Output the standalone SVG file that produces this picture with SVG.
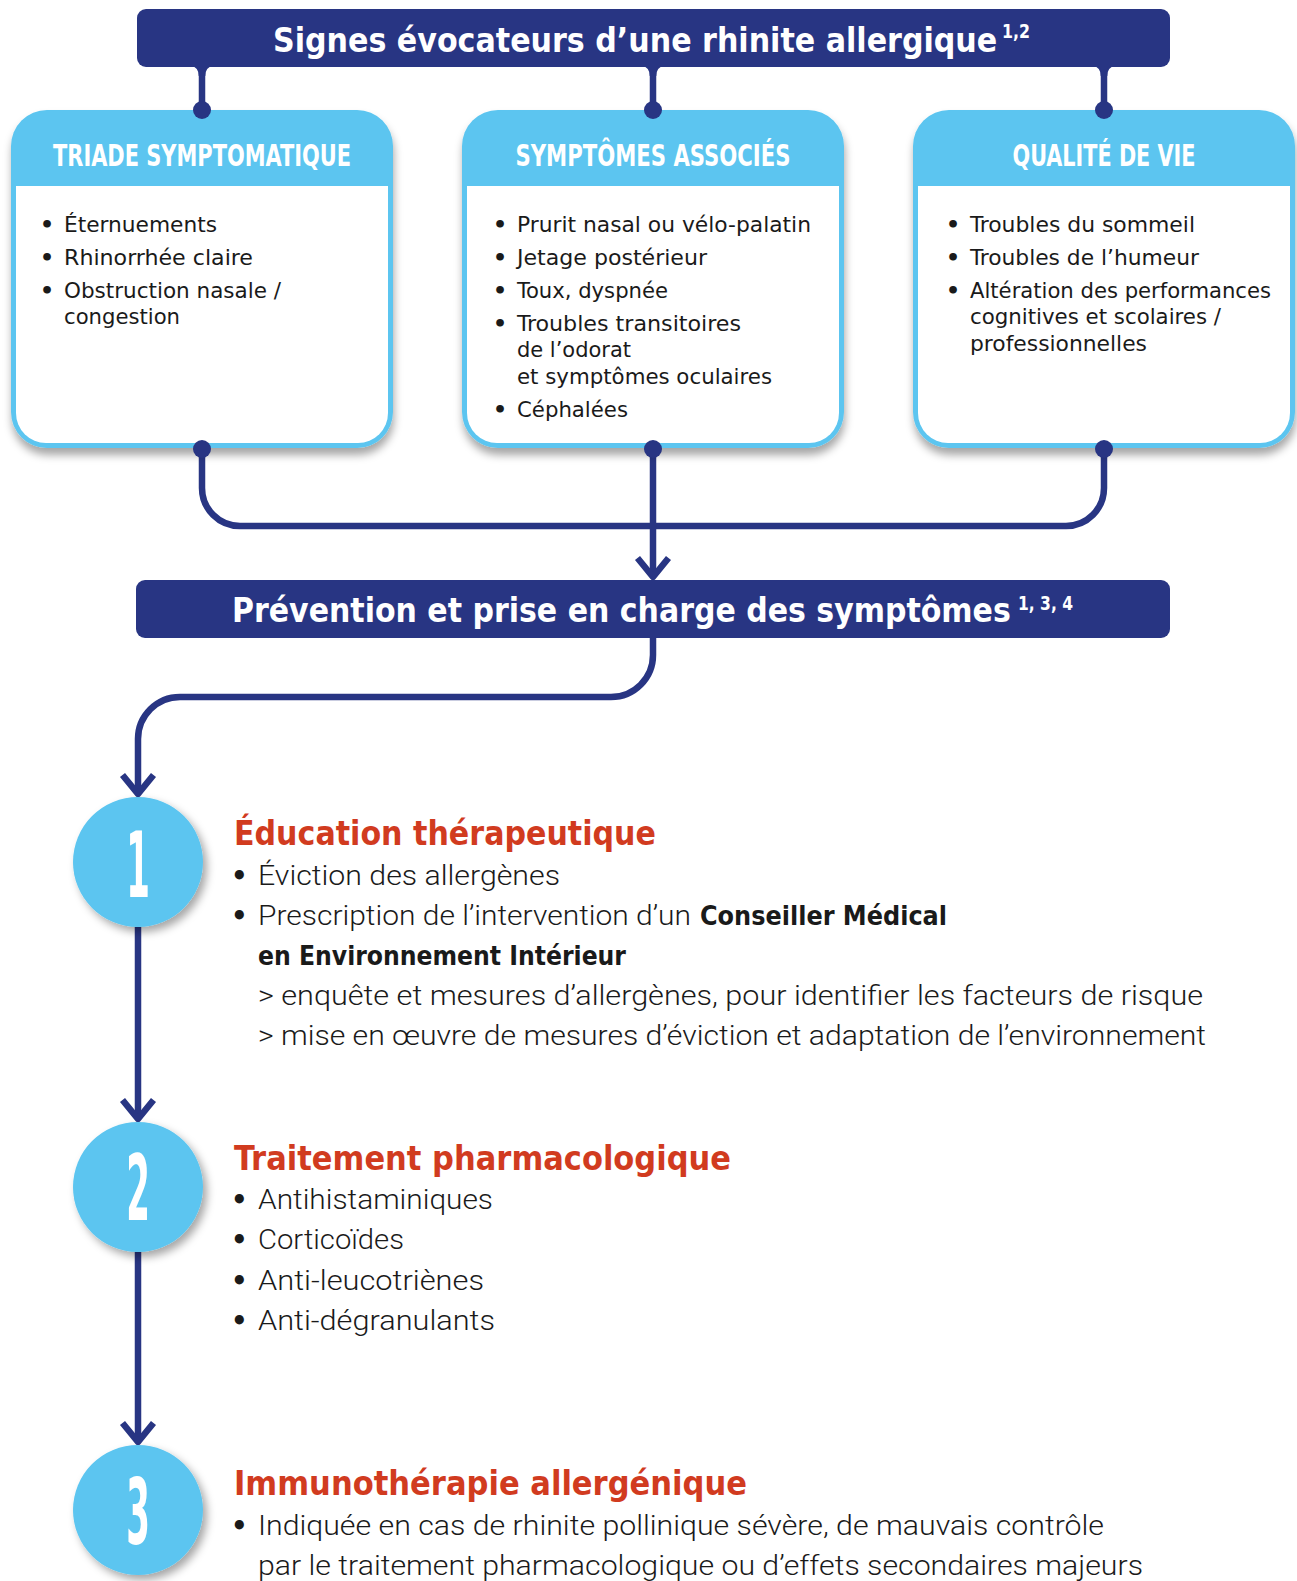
<svg xmlns="http://www.w3.org/2000/svg" width="1297" height="1581" viewBox="0 0 1297 1581">
<defs>
<style>
.navy{fill:#283583}
.lb{fill:#5bc5f0}
.wire{fill:none;stroke:#283583;stroke-width:6.5;stroke-linecap:butt;stroke-linejoin:round}
.ttl{font-family:"DejaVu Sans Condensed","Liberation Sans",sans-serif;font-weight:bold;fill:#fff;font-size:34px}
.sup{font-family:"DejaVu Sans Condensed","Liberation Sans",sans-serif;font-weight:bold;fill:#fff;font-size:19px}
.hd{font-family:"DejaVu Sans Condensed","Liberation Sans",sans-serif;font-weight:bold;fill:#fff;font-size:30px;text-anchor:middle}
.bd{font-family:"DejaVu Sans Condensed","Liberation Sans",sans-serif;fill:#1a1a1a;font-size:22px}
.bl{font-family:"DejaVu Sans","Liberation Sans",sans-serif;font-weight:bold;fill:#1a1a1a}
.sec{font-family:"DejaVu Sans Condensed","Liberation Sans",sans-serif;font-weight:bold;fill:#d13b1f;font-size:33px}
.tx{font-family:Roboto,"DejaVu Sans Condensed","Liberation Sans",sans-serif;font-weight:300;fill:#1a1a1a;font-size:27px}
.txb{font-family:"DejaVu Sans Condensed","Liberation Sans",sans-serif;font-weight:bold;fill:#1a1a1a;font-size:27px}
.num{font-family:"DejaVu Sans Condensed","Liberation Sans",sans-serif;font-weight:bold;fill:#fff;font-size:90px;text-anchor:middle}
</style>
<filter id="sh" x="-20%" y="-20%" width="140%" height="150%">
<feDropShadow dx="1" dy="7" stdDeviation="4.5" flood-color="#000" flood-opacity="0.35"/>
</filter>
<filter id="csh" x="-30%" y="-30%" width="160%" height="160%">
<feDropShadow dx="4" dy="5" stdDeviation="4" flood-color="#000" flood-opacity="0.35"/>
</filter>
</defs>
<rect width="1297" height="1581" fill="#fff"/>

<g id="connectors">
<path class="navy" d="M191,66 H213 Q205.3,67 205.3,76 H198.7 Q198.7,67 191,66 Z M642,66 H664 Q656.3,67 656.3,76 H649.7 Q649.7,67 642,66 Z M1093,66 H1115 Q1107.3,67 1107.3,76 H1100.7 Q1100.7,67 1093,66 Z"/>
<path class="wire" d="M202,66 V110 M653,66 V110 M1104,66 V110"/>
<path class="wire" d="M202,449 V488 A38,38 0 0 0 240,526 H1066 A38,38 0 0 0 1104,488 V449"/>
<path class="wire" d="M653,449 V576"/>
<path class="wire" d="M637.5,558 L653,577 L668.5,558"/>
<path class="wire" d="M653,637 V655 A42,42 0 0 1 611,697 H180 A42,42 0 0 0 138,739 V793"/>
<path class="wire" d="M122.5,775 L138,794 L153.5,775"/>
<path class="wire" d="M138,927 V1118"/>
<path class="wire" d="M122.5,1100 L138,1119 L153.5,1100"/>
<path class="wire" d="M138,1252 V1441"/>
<path class="wire" d="M122.5,1423 L138,1442 L153.5,1423"/>
</g>

<g id="banner-top">
<rect class="navy" x="137" y="9" width="1033" height="58" rx="9"/>
<text class="ttl" transform="translate(273,52) scale(0.88,1)" x="0" y="0" textLength="823" lengthAdjust="spacingAndGlyphs">Signes évocateurs d’une rhinite allergique</text>
<text class="sup" x="1002" y="38" textLength="28" lengthAdjust="spacingAndGlyphs">1,2</text>
</g>

<g id="box-triade">
<rect class="lb" x="11" y="110" width="382" height="338" rx="36" filter="url(#sh)"/>
<path fill="#fff" d="M16,186 H388 V413 A30,30 0 0 1 358,443 H46 A30,30 0 0 1 16,413 Z"/>
<text class="hd" x="202" y="166" textLength="298" lengthAdjust="spacingAndGlyphs">TRIADE SYMPTOMATIQUE</text>
<g class="bd">
<text class="bl" x="40" y="232">•</text><text x="64" y="232" textLength="153" lengthAdjust="spacingAndGlyphs">Éternuements</text>
<text class="bl" x="40" y="265">•</text><text x="64" y="265" textLength="189" lengthAdjust="spacingAndGlyphs">Rhinorrhée claire</text>
<text class="bl" x="40" y="298">•</text><text x="64" y="298" textLength="217" lengthAdjust="spacingAndGlyphs">Obstruction nasale /</text>
<text x="64" y="324" textLength="116" lengthAdjust="spacingAndGlyphs">congestion</text>
</g>
<circle class="navy" cx="202" cy="110" r="9"/>
<circle class="navy" cx="202" cy="449" r="9"/>
</g>

<g id="box-associes">
<rect class="lb" x="462" y="110" width="382" height="338" rx="36" filter="url(#sh)"/>
<path fill="#fff" d="M467,186 H839 V413 A30,30 0 0 1 809,443 H497 A30,30 0 0 1 467,413 Z"/>
<text class="hd" x="653" y="166" textLength="275" lengthAdjust="spacingAndGlyphs">SYMPTÔMES ASSOCIÉS</text>
<g class="bd">
<text class="bl" x="493" y="232">•</text><text x="517" y="232" textLength="294" lengthAdjust="spacingAndGlyphs">Prurit nasal ou vélo-palatin</text>
<text class="bl" x="493" y="265">•</text><text x="517" y="265" textLength="190" lengthAdjust="spacingAndGlyphs">Jetage postérieur</text>
<text class="bl" x="493" y="298">•</text><text x="517" y="298" textLength="151" lengthAdjust="spacingAndGlyphs">Toux, dyspnée</text>
<text class="bl" x="493" y="331">•</text><text x="517" y="331" textLength="224" lengthAdjust="spacingAndGlyphs">Troubles transitoires</text>
<text x="517" y="357" textLength="114" lengthAdjust="spacingAndGlyphs">de l’odorat</text>
<text x="517" y="384" textLength="255" lengthAdjust="spacingAndGlyphs">et symptômes oculaires</text>
<text class="bl" x="493" y="417">•</text><text x="517" y="417" textLength="111" lengthAdjust="spacingAndGlyphs">Céphalées</text>
</g>
<circle class="navy" cx="653" cy="110" r="9"/>
<circle class="navy" cx="653" cy="449" r="9"/>
</g>

<g id="box-qualite">
<rect class="lb" x="913" y="110" width="382" height="338" rx="36" filter="url(#sh)"/>
<path fill="#fff" d="M918,186 H1290 V413 A30,30 0 0 1 1260,443 H948 A30,30 0 0 1 918,413 Z"/>
<text class="hd" x="1104" y="166" textLength="183" lengthAdjust="spacingAndGlyphs">QUALITÉ DE VIE</text>
<g class="bd">
<text class="bl" x="946" y="232">•</text><text x="970" y="232" textLength="225" lengthAdjust="spacingAndGlyphs">Troubles du sommeil</text>
<text class="bl" x="946" y="265">•</text><text x="970" y="265" textLength="229" lengthAdjust="spacingAndGlyphs">Troubles de l’humeur</text>
<text class="bl" x="946" y="298">•</text><text x="970" y="298" textLength="301" lengthAdjust="spacingAndGlyphs">Altération des performances</text>
<text x="970" y="324" textLength="251" lengthAdjust="spacingAndGlyphs">cognitives et scolaires /</text>
<text x="970" y="351" textLength="177" lengthAdjust="spacingAndGlyphs">professionnelles</text>
</g>
<circle class="navy" cx="1104" cy="110" r="9"/>
<circle class="navy" cx="1104" cy="449" r="9"/>
</g>

<g id="banner-prevention">
<rect class="navy" x="136" y="580" width="1034" height="58" rx="9"/>
<text class="ttl" transform="translate(232,622) scale(0.88,1)" x="0" y="0" textLength="885" lengthAdjust="spacingAndGlyphs">Prévention et prise en charge des symptômes</text>
<text class="sup" x="1018" y="610" textLength="55" lengthAdjust="spacingAndGlyphs">1, 3, 4</text>
</g>

<g id="step-1">
<circle class="lb" cx="138" cy="862" r="65" filter="url(#csh)"/>
<text class="num" transform="translate(138,897) scale(0.42,1)">1</text>
<text class="sec" x="234" y="845" textLength="422" lengthAdjust="spacingAndGlyphs">Éducation thérapeutique</text>
<text class="bl" x="231" y="885" font-size="26">•</text>
<text class="tx" x="258" y="885" textLength="302" lengthAdjust="spacingAndGlyphs">Éviction des allergènes</text>
<text class="bl" x="231" y="925" font-size="26">•</text>
<text class="tx" x="258" y="925" textLength="433" lengthAdjust="spacingAndGlyphs">Prescription de l’intervention d’un</text>
<text class="txb" x="700" y="925" textLength="247" lengthAdjust="spacingAndGlyphs">Conseiller Médical</text>
<text class="txb" x="258" y="965" textLength="368" lengthAdjust="spacingAndGlyphs">en Environnement Intérieur</text>
<text class="tx" x="258" y="1005" textLength="945" lengthAdjust="spacingAndGlyphs">&gt; enquête et mesures d’allergènes, pour identifier les facteurs de risque</text>
<text class="tx" x="258" y="1045" textLength="948" lengthAdjust="spacingAndGlyphs">&gt; mise en œuvre de mesures d’éviction et adaptation de l’environnement</text>
</g>

<g id="step-2">
<circle class="lb" cx="138" cy="1187" r="65" filter="url(#csh)"/>
<text class="num" transform="translate(138,1220) scale(0.42,1)">2</text>
<text class="sec" x="234" y="1170" textLength="497" lengthAdjust="spacingAndGlyphs">Traitement pharmacologique</text>
<text class="bl" x="231" y="1209" font-size="26">•</text>
<text class="tx" x="258" y="1209" textLength="235" lengthAdjust="spacingAndGlyphs">Antihistaminiques</text>
<text class="bl" x="231" y="1249" font-size="26">•</text>
<text class="tx" x="258" y="1249" textLength="146" lengthAdjust="spacingAndGlyphs">Corticoïdes</text>
<text class="bl" x="231" y="1290" font-size="26">•</text>
<text class="tx" x="258" y="1290" textLength="226" lengthAdjust="spacingAndGlyphs">Anti-leucotriènes</text>
<text class="bl" x="231" y="1330" font-size="26">•</text>
<text class="tx" x="258" y="1330" textLength="237" lengthAdjust="spacingAndGlyphs">Anti-dégranulants</text>
</g>

<g id="step-3">
<circle class="lb" cx="138" cy="1510" r="65" filter="url(#csh)"/>
<text class="num" transform="translate(138,1544) scale(0.42,1)">3</text>
<text class="sec" x="234" y="1495" textLength="513" lengthAdjust="spacingAndGlyphs">Immunothérapie allergénique</text>
<text class="bl" x="231" y="1535" font-size="26">•</text>
<text class="tx" x="258" y="1535" textLength="846" lengthAdjust="spacingAndGlyphs">Indiquée en cas de rhinite pollinique sévère, de mauvais contrôle</text>
<text class="tx" x="258" y="1575" textLength="885" lengthAdjust="spacingAndGlyphs">par le traitement pharmacologique ou d’effets secondaires majeurs</text>
</g>
</svg>
